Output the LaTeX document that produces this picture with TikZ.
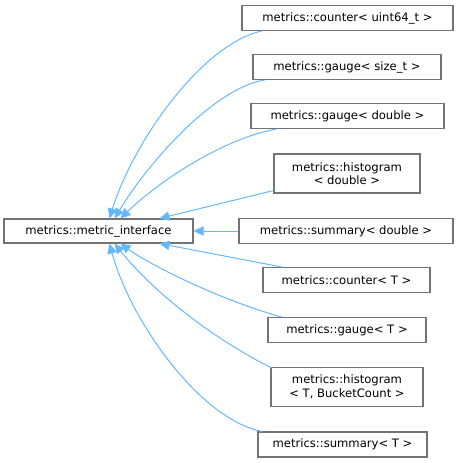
\documentclass[tikz,border=0pt]{standalone}
\usepackage{fontspec}
\setmainfont{DejaVu Sans}
\usetikzlibrary{arrows.meta}
\definecolor{edgeblue}{HTML}{63B8FF}
\definecolor{boxgray}{HTML}{737373}
\begin{document}
\begin{tikzpicture}[x=0.75pt,y=-0.75pt,
 cls/.style={draw=boxgray, line width=0.8pt, fill=white, font=\fontsize{8.7}{10.2}\selectfont, inner sep=0pt, align=center, minimum height=18.75pt},
 cls2/.style={cls, minimum height=29.25pt},
 edge/.style={draw=edgeblue, line width=0.75pt, -{Triangle[length=7.5pt,width=7pt,fill=edgeblue]}}]
\useasboundingbox (0,0) rectangle (460,463);
\node[cls, minimum width=141.75pt, minimum height=18pt] (base) at (98.5,231) {metrics::metric\_interface};
\node[cls, minimum width=158.25pt] (cu64) at (347.5,18) {metrics::counter< uint64\_t >};
\node[cls, minimum width=141pt] (gsz) at (347,67) {metrics::gauge< size\_t >};
\node[cls, minimum width=144.75pt] (gdbl) at (347.5,116) {metrics::gauge< double >};
\node[cls2, minimum width=109.5pt] (hdbl) at (347,173.5) {metrics::histogram\\< double >};
\node[cls, minimum width=160.5pt] (sdbl) at (346,231) {metrics::summary< double >};
\node[cls, minimum width=125.25pt] (cT) at (346.5,280) {metrics::counter< T >};
\node[cls, minimum width=118.5pt] (gT) at (347,330) {metrics::gauge< T >};
\node[cls2, minimum width=114pt] (hT) at (347,387) {metrics::histogram\\< T, BucketCount >};
\node[cls, minimum width=126.75pt] (sT) at (342.5,444.5) {metrics::summary< T >};

\draw[edge] ([xshift=15pt]cu64.south west) .. controls (200,45) and (132,145) .. ([xshift=79.5pt]base.north west);
\draw[edge] ([xshift=9pt]gsz.south west) .. controls (215,88) and (150,160) .. ([xshift=83.25pt]base.north west);
\draw[edge] ([xshift=19.5pt]gdbl.south west) .. controls (225,138) and (160,180) .. ([xshift=87.75pt]base.north west);
\draw[edge] ([yshift=2.25pt]hdbl.south west) -- ([xshift=117pt]base.north west);
\draw[edge] (sdbl.west) -- (base.east);
\draw[edge] ([xshift=14.25pt]cT.north west) -- ([xshift=117pt]base.south west);
\draw[edge] ([xshift=10.5pt]gT.north west) .. controls (220,300) and (150,265) .. ([xshift=87.75pt]base.south west);
\draw[edge] ([xshift=1pt,yshift=-0.75pt]hT.north west) .. controls (225,345) and (160,300) .. ([xshift=83.25pt]base.south west);
\draw[edge] ([xshift=3.75pt]sT.north west) .. controls (200,420) and (130,320) .. ([xshift=79.5pt]base.south west);
\end{tikzpicture}
\end{document}
